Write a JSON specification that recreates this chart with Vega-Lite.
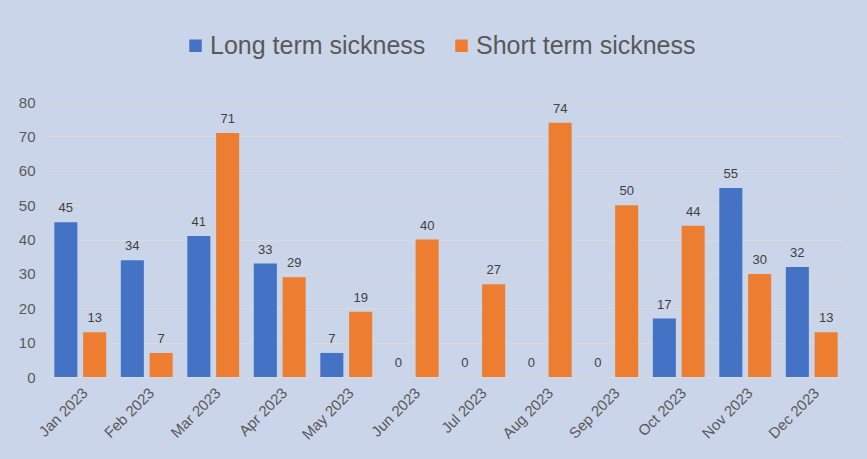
{
  "$schema": "https://vega.github.io/schema/vega-lite/v6.json",
  "width": 798,
  "height": 275,
  "autosize": {"type": "none"},
  "padding": {"left": 47, "top": 102, "right": 22, "bottom": 82},
  "background": "#CBD5E9",
  "config": {"view": {"stroke": null}, "font": "Liberation Sans"},
  "data": {
    "values": [
      {"month": "Jan 2023", "series": "Long term sickness", "value": 45},
      {"month": "Jan 2023", "series": "Short term sickness", "value": 13},
      {"month": "Feb 2023", "series": "Long term sickness", "value": 34},
      {"month": "Feb 2023", "series": "Short term sickness", "value": 7},
      {"month": "Mar 2023", "series": "Long term sickness", "value": 41},
      {"month": "Mar 2023", "series": "Short term sickness", "value": 71},
      {"month": "Apr 2023", "series": "Long term sickness", "value": 33},
      {"month": "Apr 2023", "series": "Short term sickness", "value": 29},
      {"month": "May 2023", "series": "Long term sickness", "value": 7},
      {"month": "May 2023", "series": "Short term sickness", "value": 19},
      {"month": "Jun 2023", "series": "Long term sickness", "value": 0},
      {"month": "Jun 2023", "series": "Short term sickness", "value": 40},
      {"month": "Jul 2023", "series": "Long term sickness", "value": 0},
      {"month": "Jul 2023", "series": "Short term sickness", "value": 27},
      {"month": "Aug 2023", "series": "Long term sickness", "value": 0},
      {"month": "Aug 2023", "series": "Short term sickness", "value": 74},
      {"month": "Sep 2023", "series": "Long term sickness", "value": 0},
      {"month": "Sep 2023", "series": "Short term sickness", "value": 50},
      {"month": "Oct 2023", "series": "Long term sickness", "value": 17},
      {"month": "Oct 2023", "series": "Short term sickness", "value": 44},
      {"month": "Nov 2023", "series": "Long term sickness", "value": 55},
      {"month": "Nov 2023", "series": "Short term sickness", "value": 30},
      {"month": "Dec 2023", "series": "Long term sickness", "value": 32},
      {"month": "Dec 2023", "series": "Short term sickness", "value": 13}
    ]
  },
  "encoding": {
    "x": {
      "field": "month", "type": "nominal", "sort": null,
      "scale": {"paddingInner": 0.22, "paddingOuter": 0.11},
      "axis": {"title": null, "labelAngle": -45, "labelFontSize": 15, "labelColor": "#595959", "ticks": false, "domain": false, "labelPadding": 8}
    },
    "xOffset": {"field": "series", "type": "nominal", "scale": {"paddingInner": 0.2, "paddingOuter": 0}},
    "y": {
      "field": "value", "type": "quantitative",
      "scale": {"domain": [0, 80], "nice": false},
      "axis": {"title": null, "values": [0, 10, 20, 30, 40, 50, 60, 70, 80], "grid": true, "gridColor": "#D9D9D9", "gridWidth": 1, "domain": false, "ticks": false, "labelFontSize": 15, "labelColor": "#595959", "labelPadding": 12}
    }
  },
  "layer": [
    {
      "mark": {"type": "bar"},
      "encoding": {
        "color": {
          "field": "series", "type": "nominal",
          "scale": {"domain": ["Long term sickness", "Short term sickness"], "range": ["#4472C4", "#ED7D31"]},
          "legend": {"title": null, "orient": "none", "legendX": 136, "legendY": -69, "direction": "horizontal", "symbolType": "square", "symbolSize": 156, "symbolStrokeWidth": 0, "labelFontSize": 25, "labelColor": "#595959", "labelOffset": 2, "columnPadding": 23, "labelLimit": 400}
        }
      }
    },
    {
      "mark": {"type": "text", "dy": -10, "baseline": "alphabetic", "fontSize": 13, "color": "#404040"},
      "encoding": {"text": {"field": "value", "type": "quantitative"}}
    }
  ]
}
